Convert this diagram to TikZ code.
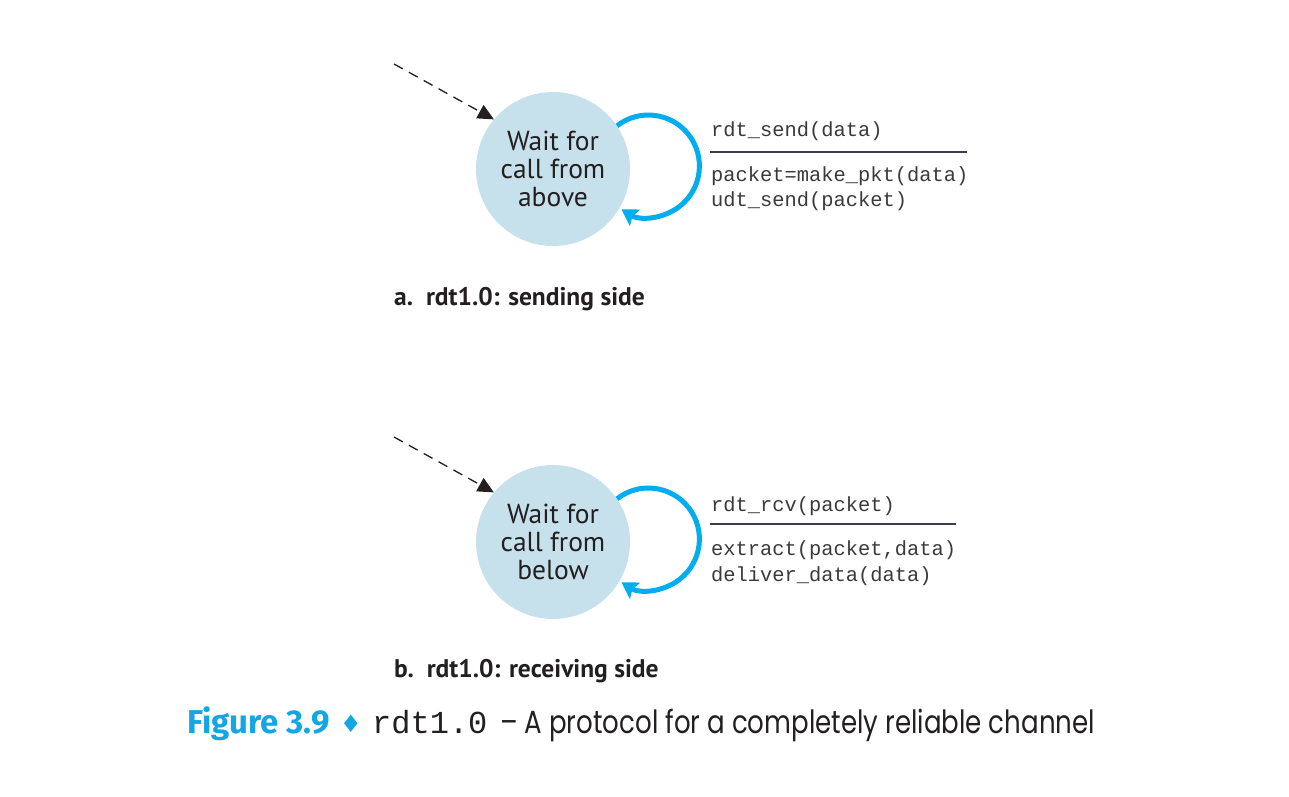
\documentclass[tikz,border=0pt]{standalone}
\usepackage{fontspec}
\usetikzlibrary{arrows.meta}
\newfontfamily\circfont{PT Sans}
\newfontfamily\codefont{Liberation Mono}
\newfontfamily\figfont{Fira Sans}
\newfontfamily\bodyfont{Poppins}
\newfontfamily\symfont{DejaVu Sans}
\definecolor{statefill}{RGB}{199,225,236}
\definecolor{loopblue}{RGB}{0,173,239}
\definecolor{figcyan}{RGB}{20,166,226}
\definecolor{txt}{RGB}{35,31,32}
\definecolor{codetxt}{RGB}{58,58,58}
\definecolor{rulecol}{RGB}{60,60,80}
\tikzset{
  state/.style={circle, fill=statefill, minimum size=154pt, inner sep=0pt, align=center,
    font=\circfont\fontsize{27.5}{28}\selectfont, text=txt},
  initarrow/.style={draw=txt, line width=1.3pt, dash pattern=on 10pt off 7pt,
    -{Triangle[length=16pt,width=15pt]}},
  selfloop/.style={draw=loopblue, line width=5pt, -{Stealth[length=16pt,width=19pt,inset=3pt]}},
  code/.style={anchor=base west, inner sep=0pt, font=\codefont\fontsize{20.4}{24}\selectfont, text=codetxt},
  actrule/.style={draw=rulecol, line width=1.8pt},
  subcap/.style={anchor=base west, inner sep=0pt, font=\circfont\bfseries\fontsize{25.5}{28}\selectfont, text=txt}
}
\begin{document}
\begin{tikzpicture}[x=1pt,y=1pt]
\useasboundingbox (0,0) rectangle (1289,796);
% sending side
\node[state] (A) at (553,627) {Wait for\\call from\\above};
\coordinate (sA) at (394,732);
\path[initarrow] (sA) -- (A.140);
\path[selfloop] (A.34) arc[start angle=128, end angle=-122, radius=51];
\node[code] (a1) at (711,659) {rdt\_send(data)};
\coordinate (ra1) at (710,644);
\coordinate (ra2) at (967,644);
\path[actrule] (ra1) -- (ra2);
\node[code] (a2) at (711,614) {packet=make\_pkt(data)};
\node[code] (a3) at (711,589) {udt\_send(packet)};
\node[subcap] (capA) at (394,490) {a.\ \ rdt1.0: sending side};
% receiving side
\node[state] (B) at (553,254) {Wait for\\call from\\below};
\coordinate (sB) at (394,359);
\path[initarrow] (sB) -- (B.140);
\path[selfloop] (B.34) arc[start angle=128, end angle=-122, radius=51];
\node[code] (b1) at (711,285) {rdt\_rcv(packet)};
\coordinate (rb1) at (710,272);
\coordinate (rb2) at (956,272);
\path[actrule] (rb1) -- (rb2);
\node[code] (b2) at (711,241) {extract(packet,data)};
\node[code] (b3) at (711,215) {deliver\_data(data)};
\node[subcap] (capB) at (394,119) {b.\ \ rdt1.0: receiving side};
% figure caption
\node[anchor=base west, inner sep=0pt, font=\figfont\bfseries\fontsize{33}{36}\selectfont, text=figcyan] (fig) at (187,63) {Figure 3.9};
\node[anchor=base west, inner sep=0pt, font=\symfont\fontsize{24}{26}\selectfont, text=figcyan] (dia) at (340,64) {♦};
\node[anchor=base west, inner sep=0pt, font=\codefont\fontsize{32}{36}\selectfont, text=txt] (rdt) at (372,63) {rdt1.0};
\node[anchor=base west, inner sep=0pt, font=\bodyfont\fontsize{32}{36}\selectfont, text=txt] (desc) at (500,63) {\scalebox{0.815}[1]{– A protocol for a completely reliable channel}};
\end{tikzpicture}
\end{document}
